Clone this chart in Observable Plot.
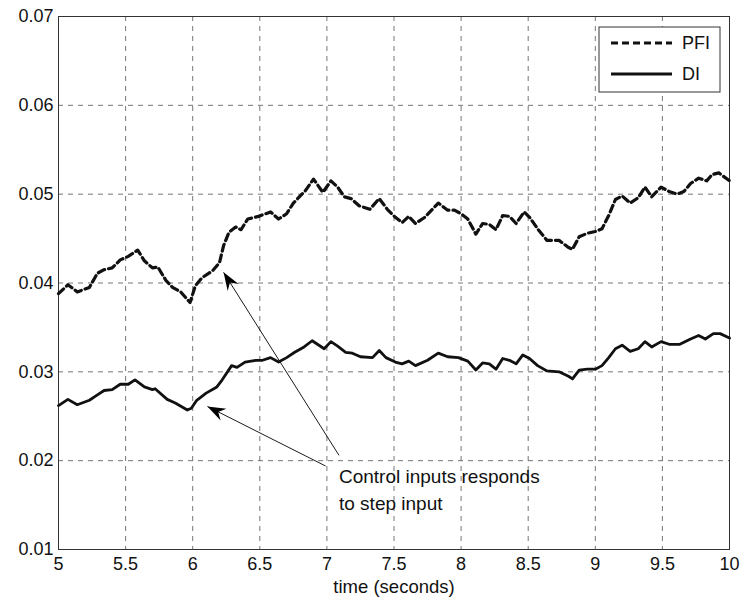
<!DOCTYPE html>
<html>
<head>
<meta charset="utf-8">
<script src="https://cdn.jsdelivr.net/npm/d3@7"></script>
<script src="https://cdn.jsdelivr.net/npm/@observablehq/plot@0.6"></script>
<style>
  html, body { margin: 0; padding: 0; background: #fff; }
  #chart { position: relative; width: 740px; height: 605px; }
</style>
</head>
<body>
<div id="chart"></div>
<script>
// ---- data ----
const pfiTime = [5.00,5.07,5.14,5.23,5.29,5.34,5.40,5.46,5.52,5.59,5.64,5.70,5.74,5.80,5.85,5.91,5.98,6.02,6.07,6.15,6.20,6.23,6.27,6.32,6.36,6.41,6.49,6.58,6.64,6.70,6.75,6.84,6.90,6.97,7.03,7.08,7.13,7.18,7.24,7.32,7.39,7.45,7.51,7.56,7.61,7.66,7.73,7.78,7.83,7.90,7.95,8.00,8.05,8.11,8.16,8.21,8.26,8.31,8.36,8.41,8.47,8.51,8.58,8.64,8.73,8.80,8.83,8.88,8.94,9.00,9.05,9.10,9.15,9.20,9.26,9.32,9.37,9.42,9.49,9.55,9.61,9.66,9.71,9.77,9.83,9.87,9.92,10.00];
const pfiValue = [0.0388,0.0398,0.0390,0.0395,0.0411,0.0415,0.0417,0.0426,0.0430,0.0437,0.0425,0.0417,0.0418,0.0403,0.0395,0.0390,0.0378,0.0397,0.0406,0.0414,0.0423,0.0442,0.0457,0.0463,0.0460,0.0472,0.0475,0.0480,0.0472,0.0478,0.0490,0.0504,0.0517,0.0502,0.0515,0.0508,0.0497,0.0495,0.0487,0.0483,0.0495,0.0483,0.0474,0.0468,0.0475,0.0467,0.0474,0.0482,0.0490,0.0482,0.0482,0.0478,0.0472,0.0455,0.0467,0.0466,0.0460,0.0476,0.0475,0.0467,0.0480,0.0474,0.0459,0.0448,0.0448,0.0440,0.0438,0.0452,0.0456,0.0458,0.0461,0.0476,0.0494,0.0498,0.0490,0.0496,0.0508,0.0497,0.0508,0.0503,0.0500,0.0503,0.0512,0.0518,0.0515,0.0522,0.0524,0.0515];

const diTime = [5.00,5.07,5.14,5.23,5.29,5.34,5.40,5.46,5.52,5.57,5.64,5.70,5.72,5.81,5.87,5.96,5.99,6.03,6.10,6.18,6.22,6.29,6.33,6.39,6.47,6.52,6.58,6.64,6.70,6.76,6.83,6.89,6.98,7.03,7.08,7.14,7.19,7.25,7.34,7.39,7.44,7.51,7.56,7.61,7.66,7.75,7.83,7.90,7.98,8.05,8.11,8.16,8.21,8.26,8.31,8.36,8.41,8.46,8.51,8.57,8.64,8.73,8.80,8.83,8.88,8.94,9.00,9.05,9.10,9.15,9.20,9.26,9.32,9.37,9.42,9.49,9.55,9.63,9.71,9.77,9.82,9.88,9.93,10.00];
const diValue = [0.0262,0.0269,0.0263,0.0268,0.0274,0.0279,0.0280,0.0286,0.0286,0.0291,0.0283,0.0280,0.0281,0.0269,0.0265,0.0257,0.0259,0.0268,0.0276,0.0283,0.0291,0.0307,0.0305,0.0311,0.0313,0.0313,0.0316,0.0311,0.0316,0.0322,0.0328,0.0335,0.0326,0.0334,0.0329,0.0322,0.0321,0.0317,0.0316,0.0324,0.0316,0.0311,0.0309,0.0312,0.0307,0.0313,0.0321,0.0317,0.0316,0.0312,0.0302,0.0310,0.0309,0.0303,0.0315,0.0313,0.0309,0.0319,0.0315,0.0307,0.0301,0.0300,0.0295,0.0292,0.0302,0.0303,0.0303,0.0307,0.0316,0.0326,0.0330,0.0323,0.0326,0.0334,0.0328,0.0334,0.0331,0.0331,0.0337,0.0341,0.0337,0.0343,0.0343,0.0338];

const xTicks = [5, 5.5, 6, 6.5, 7, 7.5, 8, 8.5, 9, 9.5, 10];
const yTicks = [0.01, 0.02, 0.03, 0.04, 0.05, 0.06, 0.07];
const seriesNames = ["PFI", "DI"];
const xLabel = "time (seconds)";
const noteText = "Control inputs responds\nto step input";
const noteAt = [{x: 7.09, y: 0.0196}];
// annotation arrows (tail -> tip) in data units
const arrowTailX = [7.09, 6.99];
const arrowTailY = [0.0206, 0.0194];
const arrowTipX  = [6.23, 6.11];
const arrowTipY  = [0.0412, 0.0261];

// ---- build tables ----
const pfi = pfiTime.map((t, i) => ({t, v: pfiValue[i]}));
const di = diTime.map((t, i) => ({t, v: diValue[i]}));
const arrows = arrowTailX.map((x, i) => ({x1: x, y1: arrowTailY[i], x2: arrowTipX[i], y2: arrowTipY[i]}));

const FONT = "'Liberation Sans', Arial, Helvetica, sans-serif";
const ARROW_STROKE = "#010101";

const chart = Plot.plot({
  width: 740,
  height: 605,
  marginLeft: 58,
  marginRight: 11,
  marginTop: 16,
  marginBottom: 56,
  style: {fontFamily: FONT, fontSize: "18px", color: "#111", background: "#fff"},
  x: {domain: [5, 10], ticks: xTicks},
  y: {domain: [0.01, 0.07], ticks: yTicks},
  marks: [
    Plot.gridX(xTicks, {stroke: "#666", strokeOpacity: 1, strokeWidth: 0.9, strokeDasharray: "5,5"}),
    Plot.gridY(yTicks, {stroke: "#666", strokeOpacity: 1, strokeWidth: 0.9, strokeDasharray: "5,5"}),
    Plot.axisX(xTicks, {tickSize: 0, tickPadding: 8, label: null, fontSize: 18, tickFormat: d => String(d)}),
    Plot.axisY(yTicks, {tickSize: 0, tickPadding: 5, label: null, fontSize: 18, tickFormat: d3.format(".2f")}),
    Plot.text([xLabel], {frameAnchor: "bottom", dy: 43, fontSize: 18.5, fill: "#111"}),
    Plot.frame({stroke: "#333", strokeWidth: 1}),
    Plot.link(arrows, {x1: "x1", y1: "y1", x2: "x2", y2: "y2", stroke: ARROW_STROKE, strokeWidth: 0.9}),
    Plot.lineY(pfi, {x: "t", y: "v", stroke: "#111", strokeWidth: 3.2, strokeDasharray: "7,4"}),
    Plot.lineY(di, {x: "t", y: "v", stroke: "#111", strokeWidth: 2.8}),
    Plot.text(noteAt, {x: "x", y: "y", text: () => noteText, textAnchor: "start", lineAnchor: "top", lineHeight: 1.4, fontSize: 19, fill: "#111"})
  ]
});

document.getElementById("chart").appendChild(chart);

// ---- filled arrowheads for the annotation links ----
const svg = d3.select(chart.tagName.toLowerCase() === "svg" ? chart : chart.querySelector("svg"));
svg.append("defs").append("marker")
  .attr("id", "headFill")
  .attr("viewBox", "-20 -8 22 16")
  .attr("markerWidth", 22)
  .attr("markerHeight", 16)
  .attr("refX", 0).attr("refY", 0)
  .attr("orient", "auto")
  .attr("markerUnits", "userSpaceOnUse")
  .append("path")
  .attr("d", "M0,0 L-18,-6.5 L-12,0 L-18,6.5 Z")
  .attr("fill", "#000");
svg.selectAll(`[stroke="${ARROW_STROKE}"]`).each(function () {
  const el = d3.select(this);
  if (this.tagName === "path" || this.tagName === "line") el.attr("marker-end", "url(#headFill)");
  el.selectAll("path, line").attr("marker-end", "url(#headFill)");
});

// ---- legend box (top right, inside the frame) ----
const lg = svg.append("g").attr("transform", "translate(599,27)");
lg.append("rect").attr("width", 121).attr("height", 65).attr("fill", "#fff").attr("stroke", "#333").attr("stroke-width", 1);
const styles = [{dash: "7,4", w: 3.2}, {dash: null, w: 2.8}];
seriesNames.forEach((name, i) => {
  const yy = 16 + i * 31;
  const ln = lg.append("line").attr("x1", 12).attr("x2", 73).attr("y1", yy).attr("y2", yy)
    .attr("stroke", "#111").attr("stroke-width", styles[i].w);
  if (styles[i].dash) ln.attr("stroke-dasharray", styles[i].dash);
  lg.append("text").attr("x", 83).attr("y", yy).attr("dy", "0.35em")
    .attr("text-anchor", "start")
    .attr("font-family", FONT).attr("font-size", 18).attr("fill", "#111").text(name);
});
</script>
</body>
</html>
